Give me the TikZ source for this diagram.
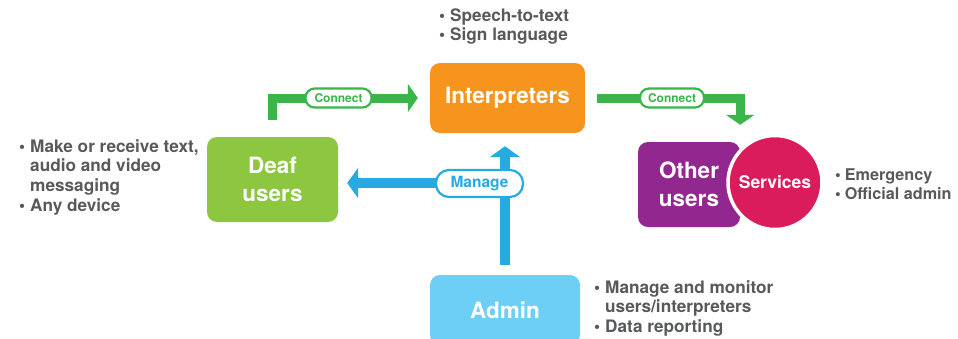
\documentclass[tikz,border=0pt]{standalone}
\usepackage{fontspec}
\setmainfont{TeX Gyre Heros}
\usetikzlibrary{arrows.meta}
\definecolor{deafgreen}{HTML}{8DC63F}
\definecolor{interorange}{HTML}{F7941D}
\definecolor{otherpurple}{HTML}{92278F}
\definecolor{servicered}{HTML}{DA1C5C}
\definecolor{adminblue}{HTML}{6DCFF6}
\definecolor{linkgreen}{HTML}{39B54A}
\definecolor{linkblue}{HTML}{27AAE1}
\definecolor{notegray}{HTML}{58595B}
\begin{document}
\begin{tikzpicture}
  [x=1pt,y=-1pt,
   box/.style={rounded corners=10pt,text=white,align=center,
     font=\bfseries\fontsize{22.5}{27.5}\selectfont},
   greenlink/.style={draw=linkgreen,line width=9pt,
     -{Triangle[width=28pt,length=10pt]}},
   bluelink/.style={draw=linkblue,line width=10pt,
     -{Triangle[width=30pt,length=11pt]}},
   pill/.style={draw=#1,fill=white,line width=2.2pt,text=#1,
     rounded corners=9pt,inner sep=0pt},
   notes/.style={anchor=base west,inner sep=0pt,text=notegray,
     font=\bfseries\fontsize{17.2}{19.7}\selectfont}]
  \clip (0,0) rectangle (958,338);

  % boxes
  \node[box,fill=deafgreen,minimum width=131pt,minimum height=85pt] (deaf) at (272.5,179.5) {Deaf\\users};
  \node[box,fill=interorange,minimum width=155pt,minimum height=70pt] (interp) at (507.5,98) {Interpreters};
  \node[box,fill=otherpurple,minimum width=102pt,minimum height=85pt] (other) at (689,184.5) {Other\\users};
  \node[circle,fill=servicered,draw=white,line width=3.5pt,minimum size=94pt,text=white,
    font=\bfseries\fontsize{17.5}{20}\selectfont] (services) at (775,182.5) {Services};
  \node[box,fill=adminblue,minimum width=150pt,minimum height=70pt] (admin) at (505,310) {Admin};

  % connect arrows
  \draw[greenlink,shorten <=17pt,shorten >=12pt] (deaf.north) |-
    node[pill=linkgreen,pos=.71,minimum width=66pt,minimum height=19pt,
      font=\bfseries\fontsize{12}{14}\selectfont] (connl) {Connect} (interp.west);
  \draw[greenlink,shorten <=12pt,shorten >=17pt] (interp.east) -|
    node[pill=linkgreen,pos=.28,minimum width=64pt,minimum height=19pt,
      font=\bfseries\fontsize{12}{14}\selectfont] (connr) {Connect} (other.north east);

  % manage arrows
  \draw[bluelink,shorten <=10pt,shorten >=13pt] (admin.north) -- (admin.north |- interp.south);
  \coordinate (fork) at (505,183);
  \draw[bluelink,shorten >=9pt] (fork) -- (fork -| deaf.east);
  \node[pill=linkblue,minimum width=87pt,minimum height=27pt,rounded corners=13pt,
    font=\bfseries\fontsize{15.5}{17}\selectfont] (manage) at (479.5,183.5) {Manage};

  % notes
  \node[notes] (deafnote) at (19,152) {\begin{tabular}[t]{@{}l@{\hspace{5pt}}l@{}}
    \textbullet & Make or receive text,\\ & audio and video\\ & messaging\\
    \textbullet & Any device\end{tabular}};
  \node[notes] (internote) at (439,21) {\begin{tabular}[t]{@{}l@{\hspace{5pt}}l@{}}
    \textbullet & Speech-to-text\\ \textbullet & Sign language\end{tabular}};
  \node[notes,font=\bfseries\fontsize{16.2}{19.5}\selectfont] (servnote) at (835,180) {\begin{tabular}[t]{@{}l@{\hspace{4pt}}l@{}}
    \textbullet & Emergency\\ \textbullet & Official admin\end{tabular}};
  \node[notes] (adminnote) at (594,293) {\begin{tabular}[t]{@{}l@{\hspace{5pt}}l@{}}
    \textbullet & Manage and monitor\\ & users/interpreters\\
    \textbullet & Data reporting\end{tabular}};
\end{tikzpicture}
\end{document}
